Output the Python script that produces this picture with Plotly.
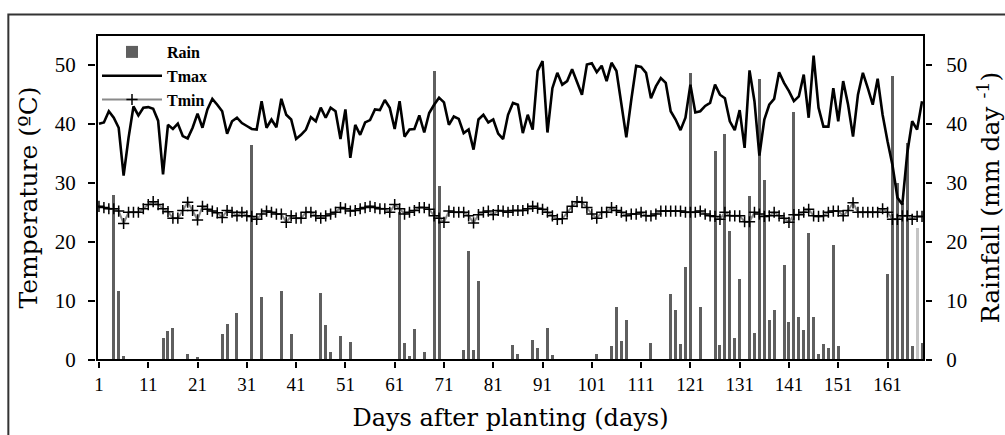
import plotly.graph_objects as go

days = list(range(1, 169))

tmax = [
    40.0, 40.2, 42.1, 41.0, 39.3, 31.2, 37.6, 42.9, 41.4, 42.7,
    42.8, 42.5, 40.5, 31.4, 39.8, 39.1, 40.0, 37.9, 37.5, 39.3,
    41.7, 39.3, 42.4, 44.2, 43.2, 42.1, 38.3, 40.4, 41.0, 40.1,
    39.6, 39.1, 39.0, 43.8, 39.3, 40.7, 39.4, 44.2, 41.5, 40.7,
    37.4, 38.1, 39.0, 41.1, 40.4, 42.7, 41.0, 42.7, 42.1, 37.4,
    42.4, 34.2, 39.8, 38.1, 40.2, 40.6, 42.4, 42.3, 44.0, 42.7,
    39.1, 43.8, 37.8, 39.0, 39.1, 41.4, 38.5, 41.8, 43.2, 44.4,
    43.6, 39.8, 41.2, 40.8, 38.4, 39.0, 35.6, 40.7, 41.5, 40.2,
    40.7, 38.3, 37.4, 41.5, 43.5, 43.2, 38.4, 41.5, 39.0, 48.9,
    50.6, 38.5, 46.0, 48.6, 46.6, 47.2, 49.2, 47.2, 44.9, 50.0,
    50.2, 48.7, 49.8, 47.2, 50.3, 48.9, 43.0, 37.7, 44.0, 49.8,
    49.6, 48.6, 44.3, 46.3, 47.7, 46.9, 42.1, 40.7, 38.9, 41.0,
    46.6, 41.9, 42.1, 43.0, 43.5, 46.6, 44.9, 44.3, 40.4, 38.9,
    42.3, 35.9, 49.0, 43.8, 34.6, 40.7, 43.2, 44.2, 48.7, 46.9,
    45.5, 43.8, 44.6, 48.3, 41.0, 51.5, 42.7, 39.5, 39.5, 46.0,
    40.4, 47.2, 43.2, 37.8, 44.9, 48.6, 46.0, 43.2, 47.6, 41.5,
    37.0, 33.0, 27.5, 26.3, 35.0, 40.4, 39.0, 43.8,
]

tmin = [
    26.0, 25.8, 25.6, 25.6, 25.2, 23.1, 25.0, 25.0, 25.0, 25.6,
    26.3, 26.8, 26.3, 25.6, 25.1, 24.0, 24.0, 25.3, 26.7, 25.3,
    23.7, 26.0, 25.5, 25.2, 24.9, 24.1, 25.3, 25.0, 24.4, 25.0,
    24.4, 24.3, 23.8, 24.7, 25.2, 25.0, 24.7, 24.7, 23.3, 24.4,
    24.0, 24.0, 25.0, 25.0, 24.4, 24.0, 24.4, 24.7, 25.0, 25.8,
    25.6, 25.2, 25.3, 25.6, 25.8, 26.0, 25.8, 25.6, 25.6, 25.0,
    26.3, 25.6, 24.7, 25.0, 25.3, 25.8, 25.8, 25.5, 24.4, 24.0,
    23.3, 25.2, 25.0, 25.0, 25.0, 24.4, 23.2, 24.6, 25.0, 25.2,
    24.6, 25.3, 25.2, 25.0, 25.3, 25.3, 25.3, 25.6, 26.0, 25.7,
    25.5, 25.0, 24.4, 23.8, 23.9, 25.0, 26.0, 26.8, 26.7, 25.8,
    24.7, 24.0, 25.0, 25.0, 25.8, 25.3, 25.0, 24.4, 24.7, 24.7,
    25.0, 24.4, 24.4, 24.7, 25.2, 25.2, 25.2, 25.2, 25.2, 25.0,
    25.0, 25.0, 25.2, 24.7, 24.4, 24.3, 23.8, 25.0, 24.4, 24.4,
    24.4, 23.4, 23.4, 25.0, 24.7, 24.3, 24.4, 25.0, 24.4, 24.0,
    23.3, 24.6, 24.6, 25.0, 25.5, 24.4, 24.3, 24.4, 25.0, 25.2,
    25.2, 24.4, 25.3, 26.6, 25.0, 25.0, 25.0, 25.0, 25.0, 25.6,
    25.0, 23.8, 23.8, 24.4, 24.4, 23.8, 24.3, 24.3,
]

rain_days = [
    4, 5, 6, 14, 15, 16, 19, 21, 26, 27, 29, 32, 34, 38, 40, 46, 47, 48, 50, 52,
    62, 63, 64, 65, 67, 69, 70, 75, 76, 77, 78, 85, 86, 89, 90, 92, 93,
    102, 105, 106, 107, 108, 113, 117, 118, 119, 120, 121, 123, 126, 127, 128,
    129, 130, 131, 133, 134, 135, 136, 137, 138, 140, 141, 142, 143, 144, 145,
    146, 147, 148, 149, 150, 151, 161, 162, 163, 164, 165, 166, 167, 168,
]
rain = [
    28.0, 11.7, 0.6, 3.7, 4.9, 5.4, 1.0, 0.5, 4.4, 6.1, 8.0, 36.4, 10.6, 11.6, 4.4,
    11.3, 6.0, 1.4, 4.1, 3.0,
    25.1, 2.8, 0.6, 5.3, 1.3, 48.9, 29.4, 1.7, 18.5, 1.7, 13.4, 2.5, 1.0, 3.4, 2.0,
    5.5, 0.8,
    1.0, 2.3, 8.9, 3.3, 6.7, 2.9, 11.2, 8.4, 2.7, 15.7, 48.6, 8.9, 35.3, 2.5, 38.3,
    21.9, 3.7, 13.7, 27.8, 4.5, 47.6, 30.4, 6.8, 8.5, 16.0, 6.5, 41.9, 7.3, 5.0, 21.5,
    7.3, 1.1, 2.7, 2.1, 19.4, 2.4, 14.6, 48.0, 30.0, 26.5, 36.8, 2.3, 22.4, 2.9,
]

x_ticks = list(range(1, 162, 10))
y_ticks = [0, 10, 20, 30, 40, 50]

SERIF = "Liberation Serif"
TITLE_FONT = "DejaVu Serif"

rain_colors = ["#c4c4c4" if d == 167 else "#5f5f5f" for d in rain_days]

fig = go.Figure()
fig.add_trace(go.Bar(
    x=rain_days, y=rain, name="Rain", yaxis="y2",
    marker=dict(color=rain_colors, line=dict(width=0)),
    width=0.6, zorder=0,
))
fig.add_trace(go.Scatter(
    x=days, y=tmax, name="Tmax", mode="lines",
    line=dict(color="black", width=2.6), zorder=2,
))
fig.add_trace(go.Scatter(
    x=days, y=tmin, name="Tmin", mode="lines+markers",
    line=dict(color="#8a8a8a", width=2),
    marker=dict(symbol="cross-thin-open", size=8, color="black",
                line=dict(color="black", width=1.5)),
    zorder=1,
))

fig.update_layout(
    width=1005, height=435,
    margin=dict(l=97, r=81, t=35, b=75, autoexpand=False),
    paper_bgcolor="white", plot_bgcolor="white",
    font=dict(family=SERIF, color="black"),
    showlegend=True,
    legend=dict(
        x=0.0, y=1.0, xanchor="left", yanchor="top",
        bgcolor="rgba(0,0,0,0)", borderwidth=0,
        font=dict(family=SERIF, size=16, color="black", weight="bold"),
        traceorder="normal", itemwidth=60, tracegroupgap=0,
    ),
    bargap=0,
    xaxis=dict(
        range=[0.6, 168.4], tickvals=x_ticks, automargin=False,
        showgrid=False, zeroline=False,
        showline=True, linecolor="black", linewidth=2, mirror=True,
        ticks="outside", ticklen=6, tickwidth=1.5, tickcolor="black",
        tickfont=dict(family=SERIF, size=19),
        title=dict(text="Days after planting (days)",
                   font=dict(family=TITLE_FONT, size=24), standoff=15),
    ),
    yaxis=dict(
        range=[0, 55], tickvals=y_ticks, automargin=False,
        showgrid=False, zeroline=False,
        showline=True, linecolor="black", linewidth=2,
        ticks="outside", ticklen=7, tickwidth=1.5, tickcolor="black",
        ticklabelstandoff=8,
        tickfont=dict(family=SERIF, size=21),
        title=dict(text="Temperature (ºC)",
                   font=dict(family=TITLE_FONT, size=25), standoff=10),
    ),
    yaxis2=dict(
        range=[0, 55], tickvals=y_ticks, overlaying="y", side="right",
        automargin=False,
        showgrid=False, zeroline=False,
        showline=True, linecolor="black", linewidth=2,
        ticks="outside", ticklen=6, tickwidth=1.5, tickcolor="black",
        ticklabelstandoff=10,
        tickfont=dict(family=SERIF, size=21),
        title=dict(text="Rainfall (mm day <sup>-1</sup>)",
                   font=dict(family=TITLE_FONT, size=25), standoff=24),
    ),
    shapes=[
        dict(type="rect", xref="paper", yref="paper",
             x0=-0.1072, x1=1.12, y0=-0.35, y1=1.063,
             line=dict(color="#333333", width=2), fillcolor="rgba(0,0,0,0)",
             layer="below"),
        dict(type="rect", xref="paper", yref="paper",
             x0=0, x1=1, y0=0, y1=1,
             line=dict(color="black", width=2), fillcolor="rgba(0,0,0,0)",
             layer="above"),
    ],
)

fig.write_html("out.html", config={"displayModeBar": False},
               post_script="document.body.style.margin='0';document.body.style.overflow='hidden';")
